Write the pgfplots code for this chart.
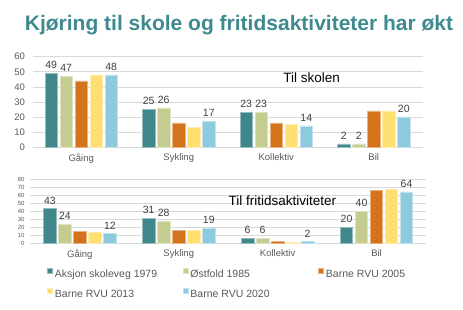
\documentclass[border=0pt]{standalone}
\usepackage{pgfplots}
\pgfplotsset{compat=1.18}
\usepackage{fontspec}
\setmainfont{Liberation Sans}

\definecolor{cTeal}{HTML}{3F878A}
\definecolor{cOlive}{HTML}{C5CC8F}
\definecolor{cOrange}{HTML}{D4731C}
\definecolor{cYellow}{HTML}{FFDF6F}
\definecolor{cBlue}{HTML}{8DCADD}
\definecolor{titleTeal}{HTML}{3E8A8F}
\definecolor{txtGray}{HTML}{595959}
\definecolor{lblGray}{HTML}{404040}
\definecolor{gridGray}{HTML}{D9D9D9}

\pgfplotsset{
  modeaxis/.style={
    scale only axis,
    xmin=-0.5, xmax=3.5, ymin=0,
    ybar=2.7pt, bar width=12.3pt,
    axis line style={draw=none},
    major tick length=0pt,
    ymajorgrids,
    grid style={draw=gridGray, line width=0.6pt},
    xtick={0,1,2,3},
    xticklabels={Gåing,Sykling,Kollektiv,Bil},
    xticklabel style={font=\fontsize{9.5}{11}\selectfont, text=txtGray, yshift=-3pt},
    /pgf/number format/assume math mode=true,
    clip=false,
    every node near coord/.append style={font=\fontsize{10.5}{12}\selectfont, text=lblGray, yshift=1pt},
  },
  bar/.style={fill=#1, draw=#1!55!white, line width=0.5pt},
}

\begin{document}
\begin{tikzpicture}[x=1pt,y=1pt]
\useasboundingbox (0,0) rectangle (463,309);

% Title
\node[anchor=base, font=\bfseries\fontsize{21}{24}\selectfont, text=titleTeal]
  at (239,279) {Kjøring til skole og fritidsaktiviteter har økt};

% Trips to school
\begin{axis}[modeaxis,
  at={(32.5pt,162pt)}, anchor=south west,
  width=390pt, height=90.3pt,
  ymax=60, ytick={0,10,...,60},
  yticklabel style={font=\fontsize{9.5}{11}\selectfont, text=txtGray, xshift=-4pt},
]
\addplot[bar=cTeal, nodes near coords] coordinates {(0,49) (1,25) (2,23) (3,2)};
\addplot[bar=cOlive, nodes near coords] coordinates {(0,47) (1,26) (2,23) (3,2)};
\addplot[bar=cOrange] coordinates {(0,44) (1,16) (2,16) (3,24)};
\addplot[bar=cYellow] coordinates {(0,48) (1,13) (2,15) (3,24)};
\addplot[bar=cBlue, nodes near coords] coordinates {(0,48) (1,17) (2,14) (3,20)};
\end{axis}
\node[font=\fontsize{13.5}{16}\selectfont, text=black] at (311.7,231) {Til skolen};

% Trips to leisure activities
\begin{axis}[modeaxis,
  at={(30.4pt,65.7pt)}, anchor=south west,
  width=395.6pt, height=64.3pt,
  ymax=80, ytick={0,10,...,80},
  yticklabel style={font=\fontsize{6}{7}\selectfont, text=txtGray, xshift=-2.4pt},
  legend columns=3,
  legend style={at={(0.0427,-0.384)}, anchor=north west,
    draw=none, fill=none, inner sep=0pt,
    nodes={inner sep=0pt, text height=7pt, text depth=2pt,
      font=\fontsize{10.5}{12}\selectfont, text=txtGray},
    row sep=9.3pt,
    /tikz/every odd column/.style={column sep=2.3pt}},
  legend image code/.code={\fill[#1] (0pt,1.5pt) rectangle (4.7pt,6.2pt);},
]
\addplot[bar=cTeal, nodes near coords] coordinates {(0,43) (1,31) (2,6) (3,20)};
\addlegendentry{\makebox[128pt][l]{Aksjon skoleveg 1979}}
\addplot[bar=cOlive, nodes near coords] coordinates {(0,24) (1,28) (2,6) (3,40)};
\addlegendentry{\makebox[128pt][l]{Østfold 1985}}
\addplot[bar=cOrange] coordinates {(0,15) (1,16) (2,2) (3,66)};
\addlegendentry{\makebox[128pt][l]{Barne RVU 2005}}
\addplot[bar=cYellow] coordinates {(0,14) (1,16) (2,1.5) (3,67.5)};
\addlegendentry{\makebox[128pt][l]{Barne RVU 2013}}
\addplot[bar=cBlue, nodes near coords] coordinates {(0,12) (1,19) (2,2) (3,64)};
\addlegendentry{\makebox[128pt][l]{Barne RVU 2020}}
\end{axis}
\node[font=\fontsize{13.5}{16}\selectfont, text=black] at (282.5,108.3) {Til fritidsaktiviteter};
\end{tikzpicture}
\end{document}
